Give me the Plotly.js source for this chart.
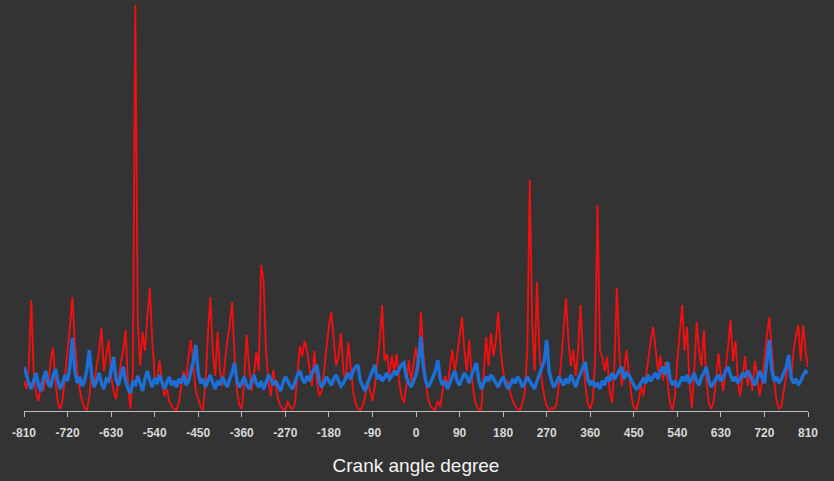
<!DOCTYPE html>
<html>
<head>
<meta charset="utf-8">
<script src="https://cdn.plot.ly/plotly-3.0.1.min.js"></script>
<style>
html,body{margin:0;padding:0;background:#333333;}
#chart{width:834px;height:481px;}
</style>
</head>
<body>
<div id="chart"></div>
<script>
// Crank angle grid: -810 .. 810 every 5 degrees
const angleStart = -810;
const angleStep = 5;

// Red trace, one value per 5 degrees
const redValues = [
30,22,45,111,40,18,10,28,20,35,
25,50,63,30,8,2,12,35,60,85,
114,70,40,22,10,3,1,15,38,25,
45,60,83,40,55,71,35,20,12,30,
48,60,81,25,2,40,406,90,45,79,
60,95,123,70,35,28,51,30,15,22,
10,5,2,1,8,25,40,30,55,71,
45,20,12,4,1,30,75,114,60,35,
79,40,25,50,70,85,109,55,20,6,
2,30,76,45,20,35,59,40,146,131,
60,30,15,41,25,12,5,2,1,10,
4,2,8,35,65,55,70,60,40,25,
60,30,15,20,40,65,85,99,70,45,
55,78,40,30,69,45,20,8,2,1,
5,15,30,20,10,25,45,70,106,50,
57,35,55,40,57,30,15,8,25,51,
30,45,64,40,99,60,30,12,5,2,
1,10,4,20,35,25,45,61,40,55,
75,94,60,40,71,35,15,5,1,2,
40,74,45,78,55,70,99,60,40,25,
30,18,10,5,2,1,8,20,60,231,
90,40,129,60,30,15,5,1,3,2,
6,25,50,80,113,70,45,61,35,60,
106,55,25,8,2,10,50,206,60,54,
40,54,20,8,45,123,60,25,40,61,
35,15,4,1,10,25,15,35,55,70,
84,60,40,55,30,49,25,8,1,15,
50,80,106,60,84,30,3,40,89,60,
45,81,30,8,2,10,30,58,35,20,
40,65,91,50,70,30,15,35,55,25,
40,20,50,35,15,30,55,75,94,60,
30,10,2,5,20,35,50,30,60,75,
86,50,86,60,44
];

// Blue trace, one value per 5 degrees
const blueValues = [
44,35,28,22,30,38,26,20,32,40,
28,24,35,42,30,22,28,36,30,45,
73,40,28,34,25,30,42,61,35,24,
30,38,28,22,32,30,40,54,32,26,
35,44,30,22,18,30,25,35,28,20,
32,40,30,24,33,27,36,30,22,28,
34,26,30,24,32,28,36,26,30,40,
50,66,38,28,32,24,30,36,28,22,
30,26,34,28,24,32,38,48,30,24,
28,34,26,22,30,36,28,24,30,22,
28,36,32,26,30,24,20,28,34,30,
25,22,30,36,40,32,28,35,30,38,
42,46,30,24,28,34,30,26,32,36,
30,25,28,34,38,32,40,44,46,30,
24,20,28,34,40,46,32,36,30,34,
38,32,35,40,36,42,46,48,34,28,
24,30,36,50,74,45,30,24,28,34,
40,51,32,26,30,22,28,34,40,30,
26,32,38,34,28,36,42,48,30,22,
28,34,30,36,32,28,24,30,34,28,
22,26,32,28,34,30,24,28,34,30,
26,22,30,36,42,50,71,40,30,24,
28,34,30,26,32,28,36,30,24,32,
38,44,49,32,26,30,24,28,22,30,
26,34,30,38,32,36,40,44,32,38,
36,30,26,22,24,28,32,28,36,30,
34,38,32,40,44,36,49,32,26,30,
24,28,34,30,36,28,32,38,30,26,
34,38,44,30,24,28,32,36,30,34,
40,44,36,30,34,28,32,38,34,40,
36,30,26,32,40,34,28,50,71,42,
30,34,28,32,38,44,56,34,28,32,
26,30,36,40,38
];

const tickVals = [-810,-720,-630,-540,-450,-360,-270,-180,-90,0,90,180,270,360,450,540,630,720,810];
const tickText = tickVals.map(String);
const xTitle = "Crank angle degree";

const angles = redValues.map((_, i) => angleStart + i * angleStep);

const traces = [
  {
    x: angles, y: redValues, type: 'scatter', mode: 'lines',
    line: {color: '#f01010', width: 1.9},
    hoverinfo: 'skip', showlegend: false
  },
  {
    x: angles, y: blueValues, type: 'scatter', mode: 'lines',
    line: {color: '#1d6fd8', width: 3.4},
    hoverinfo: 'skip', showlegend: false
  }
];

const layout = {
  width: 834, height: 481,
  paper_bgcolor: '#333333', plot_bgcolor: '#333333',
  margin: {l: 24, r: 26, t: 0, b: 70, pad: 0},
  showlegend: false,
  xaxis: {
    range: [-810, 810],
    tickmode: 'array', tickvals: tickVals, ticktext: tickText,
    showgrid: false, zeroline: false,
    showline: true, linecolor: '#bdbdbd', linewidth: 1,
    ticks: 'outside', ticklen: 5, tickcolor: '#bdbdbd', tickwidth: 1,
    ticklabelstandoff: 6,
    tickfont: {family: 'Liberation Sans, Arial, sans-serif', size: 12, color: '#d8d8d8', weight: 'bold'},
    title: {text: xTitle, standoff: 19,
      font: {family: 'Liberation Sans Narrow, Arial Narrow, Liberation Sans, sans-serif', size: 19, color: '#f4f4f4'}},
    fixedrange: true
  },
  yaxis: {
    range: [0, 411],
    visible: false, showgrid: false, zeroline: false, fixedrange: true
  }
};

Plotly.newPlot('chart', traces, layout, {displayModeBar: false, staticPlot: true});
</script>
</body>
</html>
